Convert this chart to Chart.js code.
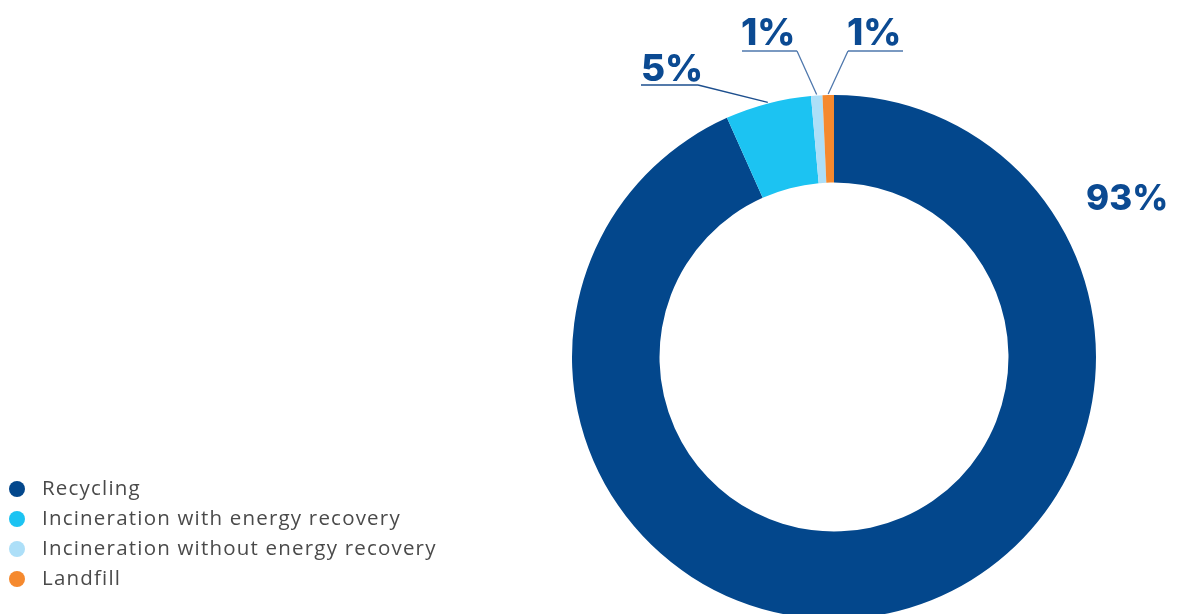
<!DOCTYPE html>
<html>
<head>
<meta charset="utf-8">
<script src="https://cdn.jsdelivr.net/npm/chart.js@4"></script>
<style>
  html, body { margin: 0; padding: 0; background: #fff; overflow: hidden; }
  #wrap { position: relative; width: 1177px; height: 640px; }
  #legend { position: absolute; left: 9px; top: 472px; font-family: "Open Sans", sans-serif; font-size: 20.5px; color: #4a4a4a; }
  #legend div { height: 30px; line-height: 30px; white-space: nowrap; letter-spacing: 1.2px; }
  #legend span.dot { display: inline-block; width: 16px; height: 16px; border-radius: 50%; vertical-align: -2px; margin-right: 17px; }
</style>
</head>
<body>
<div id="wrap">
  <canvas id="myChart" width="1177" height="640"></canvas>
  <div id="legend"></div>
</div>
<script>
categories = ['Recycling', 'Incineration with energy recovery', 'Incineration without energy recovery', 'Landfill'];
shares = [93.3, 5.3, 0.7, 0.7];
pctLabels = ['93%', '5%', '1%', '1%'];
colours = ['#03478c', '#1cc3f2', '#addff8', '#f5892e'];

// where each percentage text sits and how its leader line runs
const labelSpots = [
    { x: 1086, y: 210, size: 35, line: null },
    { x: 641, y: 81, size: 37, line: { from: 641, to: 698, y: 85, elbow: 698, colour: '#1d4f8e' } },
    { x: 741, y: 45, size: 37, line: { from: 742, to: 797, y: 51, elbow: 797, colour: '#4f78ad' } },
    { x: 847, y: 45, size: 37, line: { from: 848, to: 903, y: 51, elbow: 848, colour: '#4f78ad' } }
];

const pctPlugin = {
    id: 'pctLabels',
    afterDatasetsDraw(chart) {
        const ctx = chart.ctx;
        const arcs = chart.getDatasetMeta(0).data;
        ctx.save();
        arcs.forEach((arc, i) => {
            const spot = labelSpots[i];
            const p = arc.getProps(['x', 'y', 'startAngle', 'endAngle', 'outerRadius'], true);
            const mid = (p.startAngle + p.endAngle) / 2;
            if (spot.line) {
                const ax = p.x + Math.cos(mid) * (p.outerRadius + 1);
                const ay = p.y + Math.sin(mid) * (p.outerRadius + 1);
                ctx.strokeStyle = spot.line.colour;
                ctx.lineWidth = 1.3;
                ctx.beginPath();
                ctx.moveTo(spot.line.from, spot.line.y);
                ctx.lineTo(spot.line.to, spot.line.y);
                ctx.moveTo(spot.line.elbow, spot.line.y);
                ctx.lineTo(ax, ay);
                ctx.stroke();
            }
            ctx.fillStyle = '#0b4a92';
            ctx.font = '800 ' + spot.size + 'px Inter, "Open Sans", sans-serif';
            ctx.textAlign = 'left';
            ctx.textBaseline = 'alphabetic';
            ctx.fillText(pctLabels[i], spot.x, spot.y);
        });
        ctx.restore();
    }
};

function makeLegend() {
    const box = document.getElementById('legend');
    categories.forEach((name, i) => {
        const row = document.createElement('div');
        const dot = document.createElement('span');
        dot.className = 'dot';
        dot.style.background = colours[i];
        row.appendChild(dot);
        row.appendChild(document.createTextNode(name));
        box.appendChild(row);
    });
}

function makeChart() {
    const ctx = document.getElementById('myChart');
    new Chart(ctx, {
        type: 'doughnut',
        data: {
            labels: categories,
            datasets: [{
                data: shares,
                backgroundColor: colours,
                borderWidth: 0
            }]
        },
        options: {
            responsive: false,
            animation: false,
            cutout: '66.6%',
            layout: { padding: { left: 572, right: 81, top: 95, bottom: 21 } },
            plugins: {
                legend: { display: false },
                tooltip: { enabled: false }
            }
        },
        plugins: [pctPlugin]
    });
}

makeLegend();
makeChart();
</script>
</body>
</html>
